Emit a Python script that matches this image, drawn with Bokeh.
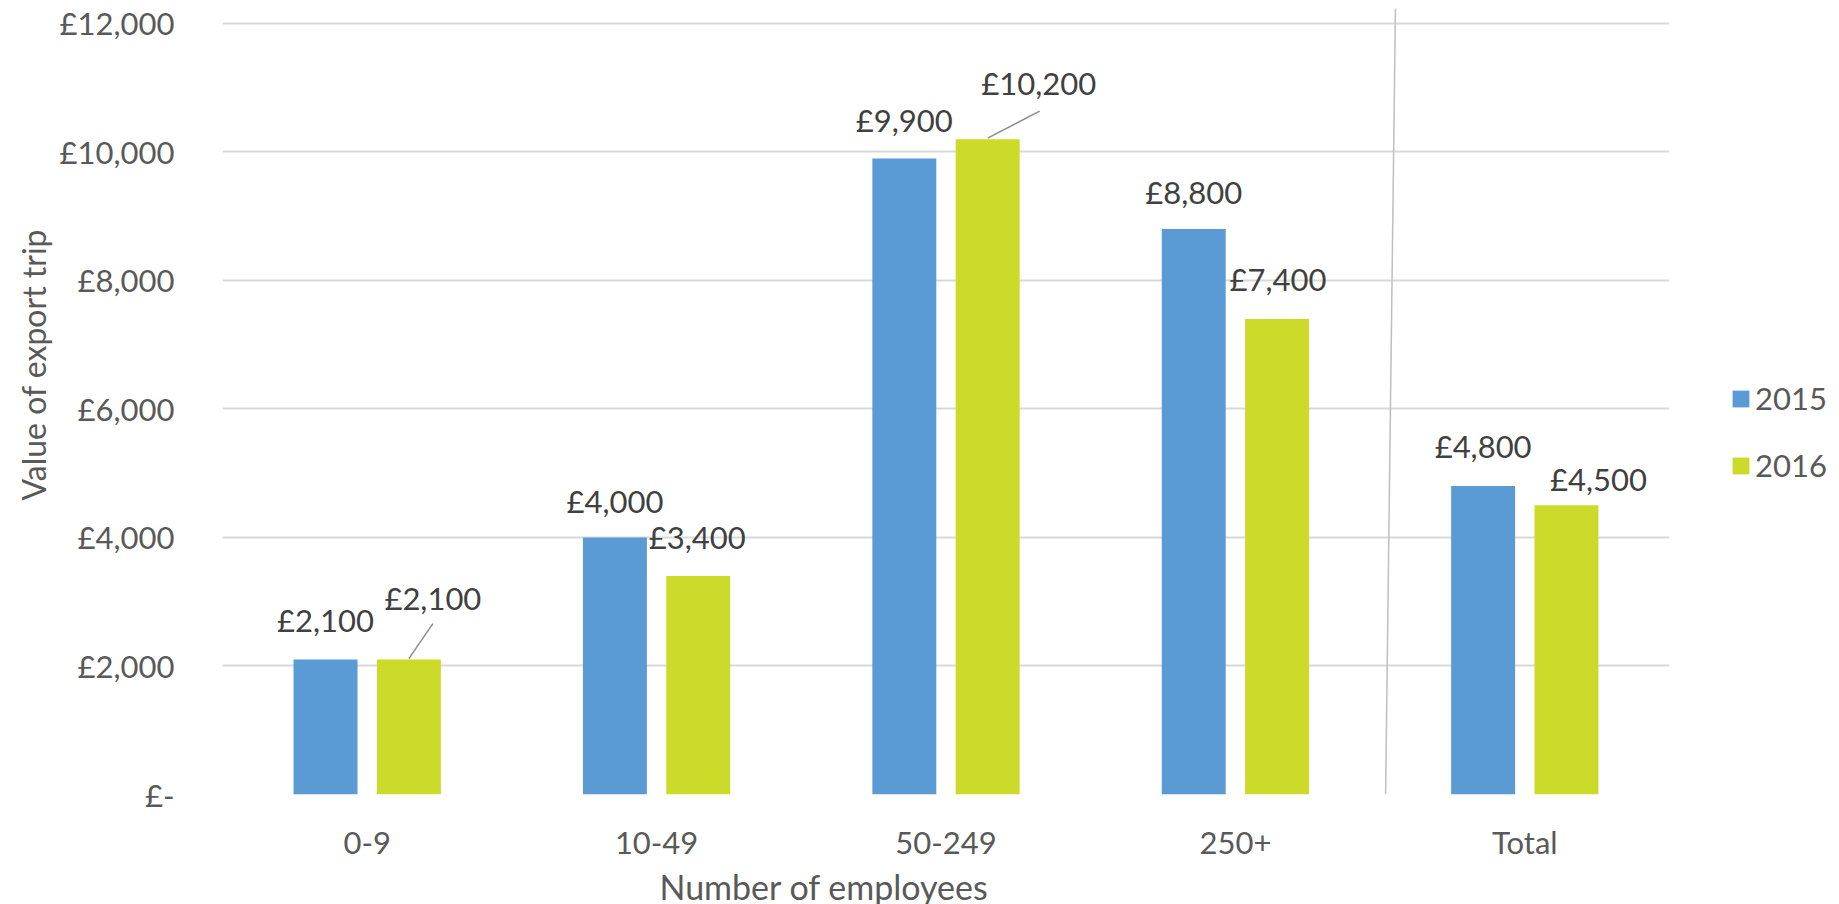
from bokeh.plotting import figure
from bokeh.models import (FactorRange, Range1d, FixedTicker, ColumnDataSource,
                          Legend, LegendItem, Title)
from bokeh.transform import dodge
from bokeh.core.properties import value
from bokeh.embed import file_html
from bokeh.resources import INLINE

# ---------------- data ----------------
categories = ["0-9", "10-49", "50-249", "250+", "Total"]
series_names = ["2015", "2016"]
values_2015 = [2100, 4000, 9900, 8800, 4800]
values_2016 = [2100, 3400, 10200, 7400, 4500]
y_ticks = [0, 2000, 4000, 6000, 8000, 10000, 12000]
y_tick_labels = ["£-", "£2,000", "£4,000", "£6,000", "£8,000", "£10,000", "£12,000"]
x_title = "Number of employees"
y_title = "Value of export trip"

# ---------------- style ----------------
BLUE = "#5B9BD5"
GREEN = "#CCDA2A"
GRID = "#D9D9D9"
TICK_TXT = "#595959"
LABEL_TXT = "#404040"
FONT = "Lato"
FS = "31px"
FRAME_W, FRAME_H = 1447, 786
Y_END = 12233
BAR_W = 0.221
DODGE = 0.144
LIFT = -11  # extra upward shift of all data labels (px)
# label pixel offsets (dx right, dy down from bar top)
dx15 = [0, 0, 0, 0, 0]
dy15 = [d + LIFT for d in [-29, -25, -27, -26, -29]]
dx16 = [24, -1, 51, 1, 32]
dy16 = [d + LIFT for d in [-51, -28, -45, -29, -15]]
# leader lines for some 2016 labels: index, end offset in px
leaders = [(0, 24, -36), (2, 52, -28)]
# separator line before "Total" (synthetic x at top and bottom)
SEP_X_TOP, SEP_X_BOT = 4.053, 4.019

px_per_cat = FRAME_W / len(categories)
px_per_val = FRAME_H / Y_END

src = ColumnDataSource(dict(
    cat=categories, v15=values_2015, v16=values_2016,
    t15=["£{:,}".format(v) for v in values_2015],
    t16=["£{:,}".format(v) for v in values_2016],
    dx15=dx15, dy15=dy15, dx16=dx16, dy16=dy16,
))

p = figure(x_range=FactorRange(*categories), y_range=Range1d(0, Y_END),
           frame_width=FRAME_W, frame_height=FRAME_H,
           output_backend="svg", toolbar_location=None,
           min_border_left=222, min_border_right=162,
           min_border_top=8, min_border_bottom=102)
p.outline_line_color = None
p.background_fill_color = "white"
p.border_fill_color = "white"

# grid
p.xgrid.grid_line_color = None
p.ygrid.grid_line_color = GRID
p.ygrid.grid_line_width = 2
p.ygrid.ticker = FixedTicker(ticks=y_ticks)

# axes
for ax in (p.xaxis, p.yaxis):
    ax.axis_line_color = None
    ax.major_tick_line_color = None
    ax.minor_tick_line_color = None
    ax.major_label_text_font = FONT
    ax.major_label_text_font_size = FS
    ax.major_label_text_color = TICK_TXT
p.xaxis.major_label_standoff = 22
p.yaxis.ticker = FixedTicker(ticks=y_ticks)
p.yaxis.major_label_overrides = {t: l for t, l in zip(y_ticks, y_tick_labels)}
p.yaxis.major_label_standoff = 42

# separator line
p.segment(x0=[SEP_X_TOP], y0=[Y_END], x1=[SEP_X_BOT], y1=[0],
          line_color="#BFBFBF", line_width=1.5)

# bars
r15 = p.vbar(x=dodge("cat", -DODGE, range=p.x_range), top="v15", width=BAR_W,
             source=src, fill_color=BLUE, line_color=None)
r16 = p.vbar(x=dodge("cat", DODGE, range=p.x_range), top="v16", width=BAR_W,
             source=src, fill_color=GREEN, line_color=None)

# leader lines
lx0, ly0, lx1, ly1 = [], [], [], []
for i, ddx, ddy in leaders:
    xc = i + 0.5 + DODGE
    lx0.append(xc)
    ly0.append(values_2016[i] + 1 / px_per_val)
    lx1.append(xc + ddx / px_per_cat)
    ly1.append(values_2016[i] - ddy / px_per_val)
p.segment(x0=lx0, y0=ly0, x1=lx1, y1=ly1, line_color="#8C8C8C", line_width=1.5)

# data labels
common = dict(source=src, text_align="center", text_baseline="alphabetic",
              text_font=value(FONT), text_font_size=FS, text_color=LABEL_TXT)
p.text(x=dodge("cat", -DODGE, range=p.x_range), y="v15", text="t15",
       x_offset="dx15", y_offset="dy15", **common)
p.text(x=dodge("cat", DODGE, range=p.x_range), y="v16", text="t16",
       x_offset="dx16", y_offset="dy16", **common)

# titles
p.add_layout(Title(text=x_title, align="left", offset=437, text_font=FONT,
                   text_font_size="34px", text_font_style="normal",
                   text_color=TICK_TXT, standoff=0), "below")
p.add_layout(Title(text=y_title, align="left", offset=294, text_font=FONT,
                   text_font_size="32px", text_font_style="normal",
                   text_color=TICK_TXT, standoff=8), "left")

# legend
legend = Legend(items=[LegendItem(label=series_names[0], renderers=[r15]),
                       LegendItem(label=series_names[1], renderers=[r16])],
                location=(61, 310), orientation="vertical",
                glyph_width=21, glyph_height=21, label_standoff=4,
                spacing=29, padding=0, margin=0,
                border_line_color=None, background_fill_alpha=0,
                label_text_font=FONT, label_text_font_size=FS,
                label_text_color=TICK_TXT)
p.add_layout(legend, "right")

open("out.html", "w").write(file_html(p, INLINE))
